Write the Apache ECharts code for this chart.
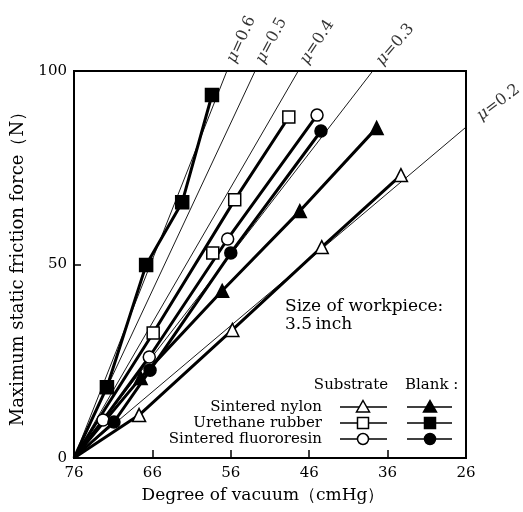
<!DOCTYPE html>
<html>
<head>
<meta charset="utf-8">
<script src="https://cdn.jsdelivr.net/npm/echarts@6/dist/echarts.min.js"></script>
<style>
html, body { margin: 0; padding: 0; background: #fff; }
#chart { width: 523px; height: 512px; }
</style>
</head>
<body>
<div id="chart"></div>
<script>
// every line starts at atmospheric pressure, zero force
const origin = [76, 0]

// degree of vacuum (cmHg) / max static friction force (N)
const nylonSubVac = [67.7, 55.8, 44.4, 34.3]
const nylonSubForce = [11.1, 33.1, 54.5, 73.1]
const nylonBlankVac = [67.5, 57.1, 47.2, 37.4]
const nylonBlankForce = [20.7, 43.2, 63.8, 85.3]

const urethaneSubVac = [65.9, 55.5, 48.6]
const urethaneSubForce = [32.3, 66.7, 88.1]
// one urethane substrate reading sits off its line
const urethaneSubStrayVac = [58.3]
const urethaneSubStrayForce = [53.0]
const urethaneBlankVac = [71.8, 66.8, 62.2, 58.4]
const urethaneBlankForce = [18.3, 49.9, 66.1, 93.8]

const fluoroSubVac = [72.3, 66.4, 56.4, 45.0]
const fluoroSubForce = [9.8, 26.1, 56.6, 88.6]
const fluoroBlankVac = [70.9, 66.3, 56.0, 44.5]
const fluoroBlankForce = [9.3, 22.7, 53.0, 84.5]

// friction coefficient guide lines, end point where they leave the frame
const muValues = [0.6, 0.5, 0.4, 0.3, 0.2]
const muEndVac = [56.5, 52.9, 47.4, 37.9, 26]
const muEndForce = [100, 100, 100, 100, 85.5]

const legendRows = ['Sintered nylon', 'Urethane rubber', 'Sintered fluororesin']

const FONT = '"DejaVu Serif", "Liberation Serif", serif'

const pairs = (vac, force) => vac.map((v, i) => [v, force[i]])

const groups = [
    { sub: pairs(nylonSubVac, nylonSubForce), subStray: [], blank: pairs(nylonBlankVac, nylonBlankForce), symbol: 'triangle', size: 13 },
    { sub: pairs(urethaneSubVac, urethaneSubForce), subStray: pairs(urethaneSubStrayVac, urethaneSubStrayForce), blank: pairs(urethaneBlankVac, urethaneBlankForce), symbol: 'rect', size: 12 },
    { sub: pairs(fluoroSubVac, fluoroSubForce), subStray: [], blank: pairs(fluoroBlankVac, fluoroBlankForce), symbol: 'circle', size: 12 }
]

const chart = echarts.init(document.getElementById('chart'))

const series = []

muValues.forEach((mu, i) => {
    series.push({
        type: 'line',
        data: [origin, [muEndVac[i], muEndForce[i]]],
        symbol: 'none',
        lineStyle: { color: '#000', width: 0.9 },
        silent: true,
        z: 1
    })
})

groups.forEach(g => {
    ;['sub', 'blank'].forEach(kind => {
        const pts = g[kind]
        series.push({
            type: 'line',
            data: [origin].concat(pts),
            symbol: 'none',
            lineStyle: { color: '#000', width: 3 },
            z: 2
        })
        series.push({
            type: 'scatter',
            data: kind === 'sub' ? pts.concat(g.subStray) : pts,
            symbol: g.symbol,
            symbolSize: kind === 'blank' && g.symbol === 'rect' ? g.size + 1 : g.size,
            itemStyle: {
                color: kind === 'sub' ? '#fff' : '#000',
                borderColor: '#000',
                borderWidth: 1.5,
                opacity: 1
            },
            z: 3
        })
    })
})

// legend drawn by hand: two marker columns
const legendY = [407, 423, 439]
const markerShape = (symbol, cx, cy, filled) => {
    const style = { fill: filled ? '#000' : '#fff', stroke: '#000', lineWidth: 1.5 }
    if (symbol === 'circle') return { type: 'circle', shape: { cx, cy, r: 5.5 }, style, z: 10 }
    if (symbol === 'rect') return { type: 'rect', shape: { x: cx - 5.5, y: cy - 5.5, width: 11, height: 11 }, style, z: 10 }
    return { type: 'polygon', shape: { points: [[cx, cy - 6.5], [cx + 6.5, cy + 5], [cx - 6.5, cy + 5]] }, style, z: 10 }
}
const graphic = [
    { type: 'text', style: { text: 'Substrate', x: 351, y: 385, align: 'center', verticalAlign: 'middle', font: '15px ' + FONT, fill: '#000' } },
    { type: 'text', style: { text: 'Blank :', x: 405, y: 385, align: 'left', verticalAlign: 'middle', font: '15px ' + FONT, fill: '#000' } },
    { type: 'text', style: { text: 'Size of workpiece:', x: 285, y: 307, align: 'left', verticalAlign: 'middle', font: '17px ' + FONT, fill: '#000' } },
    { type: 'text', style: { text: '3.5\u2009inch', x: 285, y: 325, align: 'left', verticalAlign: 'middle', font: '17px ' + FONT, fill: '#000' } }
]
legendRows.forEach((name, i) => {
    const y = legendY[i]
    graphic.push({ type: 'text', style: { text: name, x: 322, y, align: 'right', verticalAlign: 'middle', font: '15px ' + FONT, fill: '#000' } })
    graphic.push({ type: 'line', shape: { x1: 340, y1: y, x2: 387, y2: y }, style: { stroke: '#000', lineWidth: 1.5 } })
    graphic.push({ type: 'line', shape: { x1: 407, y1: y, x2: 452, y2: y }, style: { stroke: '#000', lineWidth: 1.5 } })
    graphic.push(markerShape(groups[i].symbol, 363, y, false))
    graphic.push(markerShape(groups[i].symbol, 430, y, true))
})

const option = {
    animation: false,
    backgroundColor: '#fff',
    textStyle: { fontFamily: FONT, color: '#000' },
    grid: {
        left: 74, right: 57, top: 71, bottom: 54,
        show: true, borderColor: '#000', borderWidth: 2, backgroundColor: 'transparent'
    },
    xAxis: {
        type: 'value',
        inverse: true,
        min: 26,
        max: 76,
        interval: 10,
        name: 'Degree of vacuum（cmHg）',
        nameLocation: 'middle',
        nameGap: 29,
        nameTextStyle: { fontFamily: FONT, fontSize: 17, color: '#000', padding: [0, 14, 0, 0] },
        axisLine: { lineStyle: { color: '#000', width: 2 } },
        axisTick: { inside: true, length: 8, lineStyle: { color: '#000', width: 1.5 } },
        axisLabel: { fontFamily: FONT, fontSize: 15, color: '#000', margin: 8, showMinLabel: true, showMaxLabel: true },
        splitLine: { show: false }
    },
    yAxis: {
        type: 'value',
        min: 0,
        max: 100,
        interval: 50,
        name: 'Maximum static friction force（N）',
        nameLocation: 'middle',
        nameGap: 47,
        nameTextStyle: { fontFamily: FONT, fontSize: 18, color: '#000' },
        axisLine: { show: true, lineStyle: { color: '#000', width: 2 } },
        axisTick: { show: true, inside: true, length: 7, lineStyle: { color: '#000', width: 1.5 } },
        axisLabel: { fontFamily: FONT, fontSize: 15, color: '#000', margin: 7 },
        splitLine: { show: false }
    },
    graphic,
    series
}

chart.setOption(option)

// μ labels, turned to follow each guide line
const o = chart.convertToPixel({ gridIndex: 0 }, origin)
const labelData = muValues.map((mu, i) => {
    const end = [muEndVac[i], muEndForce[i]]
    const p = chart.convertToPixel({ gridIndex: 0 }, end)
    const angle = Math.atan2(o[1] - p[1], p[0] - o[0]) * 180 / Math.PI
    return {
        value: end,
        label: {
            show: true,
            formatter: '{m|μ}=' + mu,
            position: 'inside',
            align: 'left',
            verticalAlign: 'middle',
            rotate: angle - 3,
            padding: [0, 0, 0, mu === 0.2 ? 16 : 10],
            color: '#000',
            fontFamily: FONT,
            fontSize: 16,
            rich: { m: { fontStyle: 'italic', fontFamily: FONT, fontSize: 16, color: '#000' } }
        }
    }
})
series.push({
    type: 'scatter',
    data: labelData,
    symbolSize: 1,
    itemStyle: { color: 'rgba(0,0,0,0)' },
    clip: false,
    silent: true,
    z: 5
})
chart.setOption({ series })
</script>
</body>
</html>
